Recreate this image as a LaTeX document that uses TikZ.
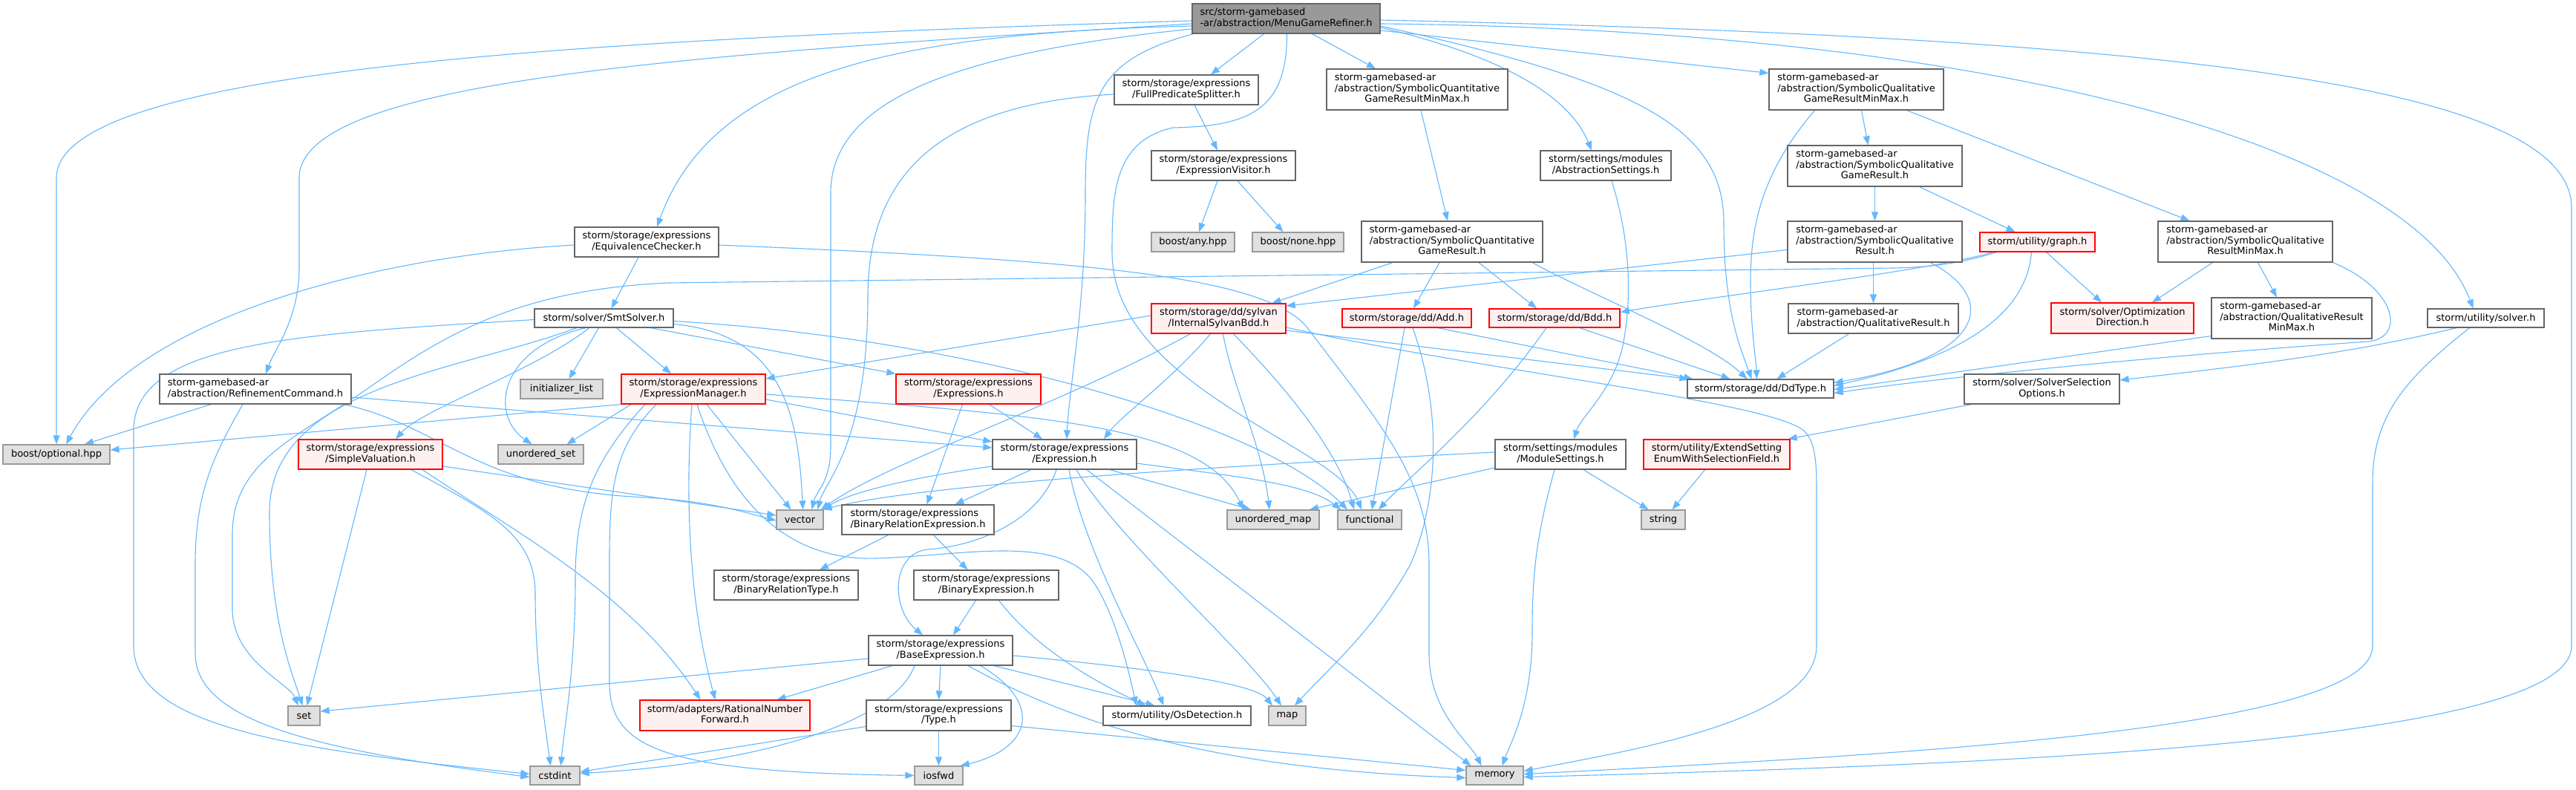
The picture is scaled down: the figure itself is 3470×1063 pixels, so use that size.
\documentclass[tikz,border=0pt]{standalone}
\usepackage{fontspec}
\setmainfont{DejaVu Sans}
\usetikzlibrary{arrows.meta,backgrounds}
\definecolor{edgecol}{HTML}{63B8FF}
\definecolor{rootfill}{HTML}{999999}
\definecolor{bord}{HTML}{666666}
\definecolor{gfill}{HTML}{E0E0E0}
\definecolor{gbord}{HTML}{999999}
\definecolor{rfill}{HTML}{FFF0F0}
\definecolor{rbord}{HTML}{FF0000}
\newcommand\nfont{\fontsize{13}{14.5}\selectfont}
\newcommand\TwoL[2]{\begin{tabular}{@{}l@{}}#1\\\multicolumn{1}{@{}c@{}}{#2}\end{tabular}}
\newcommand\ThreeL[3]{\begin{tabular}{@{}l@{}}#1\\#2\\\multicolumn{1}{@{}c@{}}{#3}\end{tabular}}
\newcommand\nd[7]{\node[#2, minimum width=#5pt, minimum height=#6pt] (#1) at (#3,#4) {#7};}
\tikzset{
  nbox/.style={draw, rectangle, inner sep=0pt, line width=1.3pt, font=\nfont, text=black},
  wbox/.style={nbox, draw=bord, fill=white},
  gbox/.style={nbox, draw=gbord, fill=gfill},
  rbox/.style={nbox, draw=rbord, fill=rfill},
  rootbox/.style={nbox, draw=bord, fill=rootfill},
  dep/.style={draw=edgecol, line width=1.1pt, -{Triangle[length=12pt,width=9pt]}},
}
\begin{document}
\begin{tikzpicture}[x=1pt,y=-1pt]
\useasboundingbox (0,0) rectangle (3470,1063);
% nodes
\nd{root}{rootbox}{1732.5}{25}{253}{40}{\TwoL{src/storm-gamebased}{-ar/abstraction/MenuGameRefiner.h}}
\nd{FPS}{wbox}{1598}{121}{194}{40}{\TwoL{storm/storage/expressions}{/FullPredicateSplitter.h}}
\nd{EV}{wbox}{1648}{223}{194}{40}{\TwoL{storm/storage/expressions}{/ExpressionVisitor.h}}
\nd{bany}{gbox}{1607}{326}{112}{26}{boost/any.hpp}
\nd{bnone}{gbox}{1748.5}{326}{123}{26}{boost/none.hpp}
\nd{SQGRMM}{wbox}{1909}{120.5}{244}{55}{\ThreeL{storm-gamebased-ar}{/abstraction/SymbolicQuantitative}{GameResultMinMax.h}}
\nd{AS}{wbox}{2163}{223}{176}{40}{\TwoL{storm/settings/modules}{/AbstractionSettings.h}}
\nd{SQGR}{wbox}{1956}{325.5}{244}{55}{\ThreeL{storm-gamebased-ar}{/abstraction/SymbolicQuantitative}{GameResult.h}}
\nd{SLGRMM}{wbox}{2500.5}{120.5}{235}{55}{\ThreeL{storm-gamebased-ar}{/abstraction/SymbolicQualitative}{GameResultMinMax.h}}
\nd{SLGR}{wbox}{2525.5}{223.5}{235}{55}{\ThreeL{storm-gamebased-ar}{/abstraction/SymbolicQualitative}{GameResult.h}}
\nd{SLR}{wbox}{2525.5}{325.5}{235}{55}{\ThreeL{storm-gamebased-ar}{/abstraction/SymbolicQualitative}{Result.h}}
\nd{graph}{rbox}{2744.5}{326}{155}{26}{storm/utility/graph.h}
\nd{SLRMM}{wbox}{3024.5}{325.5}{235}{55}{\ThreeL{storm-gamebased-ar}{/abstraction/SymbolicQualitative}{ResultMinMax.h}}
\nd{OD}{rbox}{2859}{428.5}{192}{41}{\TwoL{storm/solver/Optimization}{Direction.h}}
\nd{QRMM}{wbox}{3087}{428.5}{216}{55}{\ThreeL{storm-gamebased-ar}{/abstraction/QualitativeResult}{MinMax.h}}
\nd{usolver}{wbox}{3348.5}{428.5}{157}{25}{storm/utility/solver.h}
\nd{SSO}{wbox}{2750.5}{524}{209}{40}{\TwoL{storm/solver/SolverSelection}{Options.h}}
\nd{ISB}{rbox}{1641.5}{429}{181}{40}{\TwoL{storm/storage/dd/sylvan}{/InternalSylvanBdd.h}}
\nd{Add}{rbox}{1895}{428.5}{174}{25}{storm/storage/dd/Add.h}
\nd{Bdd}{rbox}{2094}{428.5}{176}{25}{storm/storage/dd/Bdd.h}
\nd{QR}{wbox}{2523.5}{429}{229}{40}{\TwoL{storm-gamebased-ar}{/abstraction/QualitativeResult.h}}
\nd{DdType}{wbox}{2371.5}{523.5}{197}{25}{storm/storage/dd/DdType.h}
\nd{MS}{wbox}{2102}{612}{176}{40}{\TwoL{storm/settings/modules}{/ModuleSettings.h}}
\nd{ESE}{rbox}{2312.5}{612}{197}{40}{\TwoL{storm/utility/ExtendSetting}{EnumWithSelectionField.h}}
\nd{functional}{gbox}{1845}{700}{86}{26}{functional}
\nd{sstring}{gbox}{2240.5}{700}{59}{26}{string}
\nd{umap}{gbox}{1715}{700}{124}{26}{unordered\_map}
\nd{EC}{wbox}{871}{326}{194}{40}{\TwoL{storm/storage/expressions}{/EquivalenceChecker.h}}
\nd{SMT}{wbox}{813.5}{428.5}{187}{25}{storm/solver/SmtSolver.h}
\nd{EM}{rbox}{934}{524}{194}{40}{\TwoL{storm/storage/expressions}{/ExpressionManager.h}}
\nd{Exprs}{rbox}{1304.5}{524}{195}{40}{\TwoL{storm/storage/expressions}{/Expressions.h}}
\nd{Expr}{wbox}{1434}{612}{194}{40}{\TwoL{storm/storage/expressions}{/Expression.h}}
\nd{vector}{gbox}{1077.5}{700}{63}{26}{vector}
\nd{BRE}{wbox}{1236.5}{700}{205}{40}{\TwoL{storm/storage/expressions}{/BinaryRelationExpression.h}}
\nd{RC}{wbox}{344}{524}{258}{40}{\TwoL{storm-gamebased-ar}{/abstraction/RefinementCommand.h}}
\nd{initlist}{gbox}{756.5}{524}{111}{26}{initializer\_list}
\nd{optional}{gbox}{76}{612}{144}{26}{boost/optional.hpp}
\nd{SV}{rbox}{499}{612}{194}{40}{\TwoL{storm/storage/expressions}{/SimpleValuation.h}}
\nd{uset}{gbox}{728.5}{612}{115}{26}{unordered\_set}
\nd{sset}{gbox}{409.5}{964}{43}{26}{set}
\nd{cstdint}{gbox}{747.5}{1044.5}{67}{25}{cstdint}
\nd{BRT}{wbox}{1059}{788}{194}{40}{\TwoL{storm/storage/expressions}{/BinaryRelationType.h}}
\nd{BE}{wbox}{1328.5}{788}{195}{40}{\TwoL{storm/storage/expressions}{/BinaryExpression.h}}
\nd{Base}{wbox}{1267}{876}{194}{40}{\TwoL{storm/storage/expressions}{/BaseExpression.h}}
\nd{RNF}{rbox}{976.5}{963.5}{229}{41}{\TwoL{storm/adapters/RationalNumber}{Forward.h}}
\nd{Type}{wbox}{1264.5}{963.5}{195}{41}{\TwoL{storm/storage/expressions}{/Type.h}}
\nd{OsD}{wbox}{1585.5}{964}{199}{26}{storm/utility/OsDetection.h}
\nd{map}{gbox}{1734}{964}{50}{26}{map}
\nd{iosfwd}{gbox}{1264.5}{1044.5}{65}{25}{iosfwd}
\nd{memory}{gbox}{2013.5}{1044.5}{77}{25}{memory}
% edges
\begin{pgfonlayer}{background}
\fill[white] (0,0) rectangle (3470,1063);
% root
\draw[dep] ([yshift=-3pt]root.west) .. controls (700,55) and (76,100) .. (76,240) -- (optional.north);
\draw[dep] ([yshift=-7pt]root.west) .. controls (900,75) and (403,110) .. (403,240) -- (403,360) .. controls (403,430) and (370,470) .. ([xshift=14pt]RC.north);
\draw[dep] ([yshift=-10pt]root.west) .. controls (1200,45) and (960,100) .. ([xshift=14pt]EC.north);
\draw[dep] ([yshift=-14pt]root.west) .. controls (1300,70) and (1119,130) .. (1119,260) -- (1119,600) .. controls (1119,650) and (1100,660) .. ([xshift=16pt]vector.north);
\draw[dep] ([xshift=2pt]root.south west) .. controls (1480,80) and (1462,130) .. (1462,260) .. controls (1462,420) and (1440,520) .. ([xshift=3pt]Expr.north);
\draw[dep] ([xshift=-30pt]root.south) -- ([xshift=33pt]FPS.north);
\draw[dep] ([xshift=1pt]root.south) .. controls (1734,150) and (1680,170) .. (1580,172) .. controls (1500,190) and (1498,260) .. (1498,340) .. controls (1498,520) and (1800,600) .. ([xshift=-11pt]functional.north);
\draw[dep] ([xshift=35pt]root.south) -- ([xshift=-56pt]SQGRMM.north);
\draw[dep] ([yshift=-12pt]root.east) .. controls (2000,70) and (2110,120) .. ([xshift=-19pt]AS.north);
\draw[dep] ([yshift=-10pt]root.east) .. controls (2200,110) and (2322,170) .. (2322,300) .. controls (2322,420) and (2345,470) .. ([xshift=-12pt]DdType.north);
\draw[dep] ([yshift=-16pt]root.east) -- ([yshift=22pt]SLGRMM.west);
\draw[dep] ([yshift=-7pt]root.east) .. controls (2700,40) and (3250,200) .. ([xshift=-17pt]usolver.north);
\draw[dep] ([yshift=-2pt]root.east) .. controls (2900,50) and (3464,110) .. (3464,280) -- (3464,870) .. controls (3464,1000) and (2700,1030) .. ([yshift=-2pt]memory.east);
% FPS, EV
\draw[dep] ([yshift=-6pt]FPS.west) .. controls (1260,140) and (1169,240) .. (1169,400) .. controls (1169,600) and (1110,650) .. ([xshift=24pt]vector.north);
\draw[dep] ([xshift=11pt]FPS.south) -- ([xshift=-8pt]EV.north);
\draw[dep] ([xshift=-8pt]EV.south) -- ([xshift=8pt]bany.north);
\draw[dep] ([xshift=19pt]EV.south) -- ([xshift=-20pt]bnone.north);
% EC
\draw[dep] ([xshift=-11pt]EC.south) -- ([xshift=10pt]SMT.north);
\draw[dep] ([yshift=-4pt]EC.west) .. controls (500,345) and (180,430) .. ([xshift=13pt]optional.north);
\draw[dep] ([yshift=-4pt]EC.east) .. controls (1450,350) and (1700,370) .. (1760,440) .. controls (1850,560) and (1925,640) .. (1925,760) -- (1925,880) .. controls (1925,960) and (1980,1000) .. ([xshift=-18pt]memory.north);
% SmtSolver
\draw[dep] ([yshift=-2pt]SMT.west) .. controls (400,450) and (180,460) .. (180,580) -- (180,870) .. controls (180,980) and (400,1010) .. ([yshift=2pt]cstdint.west);
\draw[dep] ([xshift=-7pt]SMT.south) -- ([xshift=10pt]initlist.north);
\draw[dep] ([xshift=-25pt]SMT.south) .. controls (670,470) and (660,560) .. ([xshift=-12pt]uset.north);
\draw[dep] ([xshift=17pt]SMT.south) -- ([xshift=-30pt]EM.north);
\draw[dep] ([xshift=63pt]SMT.south) -- (Exprs.north west);
\draw[dep] ([yshift=-8pt]SMT.east) .. controls (1050,450) and (1075,550) .. ([xshift=4pt]vector.north);
\draw[dep] ([yshift=-4pt]SMT.east) .. controls (1300,455) and (1700,570) .. ([xshift=-30pt]functional.north);
\draw[dep] ([xshift=-20pt]SMT.south) .. controls (720,500) and (570,550) .. ([xshift=34pt]SV.north);
\draw[dep] ([xshift=-37pt]SMT.south) .. controls (620,500) and (363,520) .. (363,690) .. controls (363,840) and (395,910) .. ([xshift=-2pt]sset.north);
% RC
\draw[dep] ([xshift=-60pt]RC.south) -- ([xshift=38pt]optional.north);
\draw[dep] ([xshift=-17pt]RC.south) .. controls (290,610) and (263,660) .. (263,760) -- (263,880) .. controls (263,970) and (420,1010) .. ([yshift=-2pt]cstdint.west);
\draw[dep] ([yshift=-11pt]RC.east) -- ([yshift=9pt]Expr.west);
\draw[dep] ([xshift=119pt]RC.south) .. controls (600,575) and (640,660) .. (870,670) .. controls (960,675) and (1010,692) .. ([yshift=-1pt]vector.west);
% SV
\draw[dep] ([xshift=-5pt]SV.south) -- ([xshift=4pt]sset.north);
\draw[dep] ([xshift=55pt]SV.south) .. controls (660,690) and (721,720) .. (721,800) .. controls (721,900) and (735,980) .. ([xshift=-6pt]cstdint.north);
\draw[dep] ([yshift=-16pt]SV.east) -- ([yshift=6pt]vector.west);
\draw[dep] ([xshift=70pt]SV.south) .. controls (700,720) and (850,800) .. ([xshift=-33pt]RNF.north);
% EM
\draw[dep] (EM.south west) -- ([yshift=6pt]optional.east);
\draw[dep] ([xshift=-84pt]EM.south) -- ([xshift=35pt]uset.north);
\draw[dep] ([yshift=-14pt]EM.east) -- ([yshift=17pt]Expr.west);
\draw[dep] ([yshift=-7pt]EM.east) .. controls (1400,560) and (1620,570) .. ([xshift=-40pt]umap.north);
\draw[dep] ([xshift=18pt]EM.south) -- ([xshift=-12pt]vector.north);
\draw[dep] ([xshift=-2pt]EM.south) .. controls (922,680) and (930,820) .. ([xshift=-13pt]RNF.north);
\draw[dep] ([xshift=5pt]EM.south) .. controls (990,700) and (1080,755) .. (1180,752) .. controls (1300,748) and (1420,720) .. (1470,780) .. controls (1500,820) and (1520,900) .. ([xshift=-55pt]OsD.north);
\draw[dep] ([xshift=-50pt]EM.south) .. controls (830,600) and (821,650) .. (821,750) -- (821,920) .. controls (821,1010) and (900,1040) .. (iosfwd.west);
\draw[dep] ([xshift=-65pt]EM.south) .. controls (800,620) and (775,680) .. (775,780) .. controls (775,900) and (760,980) .. ([xshift=8pt]cstdint.north);
% Exprs
\draw[dep] ([xshift=28pt]Exprs.south) -- ([xshift=-30pt]Expr.north);
\draw[dep] ([xshift=-8pt]Exprs.south) -- ([xshift=12pt]BRE.north);
% ISB
\draw[dep] ([yshift=4pt]ISB.west) -- ([yshift=14pt]EM.east);
\draw[dep] ([xshift=-38pt]ISB.south) .. controls (1420,550) and (1200,620) .. ([xshift=-4pt]vector.north east);
\draw[dep] ([xshift=-11pt]ISB.south) .. controls (1580,510) and (1510,560) .. ([xshift=53pt]Expr.north);
\draw[dep] ([xshift=6pt]ISB.south) .. controls (1660,520) and (1700,600) .. ([xshift=-5pt]umap.north);
\draw[dep] ([xshift=20pt]ISB.south) .. controls (1720,510) and (1800,600) .. ([xshift=-21pt]functional.north);
\draw[dep] ([yshift=-16pt]ISB.east) -- ([xshift=2pt]DdType.north west);
\draw[dep] ([yshift=-12pt]ISB.east) .. controls (2000,500) and (2380,540) .. (2430,580) .. controls (2445,595) and (2447,620) .. (2447,660) -- (2447,870) .. controls (2447,970) and (2200,1010) .. ([yshift=6pt]memory.east);
% Expression
\draw[dep] ([yshift=-16pt]Expr.west) .. controls (1250,640) and (1150,660) .. ([xshift=-1pt]vector.north east);
\draw[dep] ([xshift=-45pt]Expr.south) -- ([xshift=50pt]BRE.north);
\draw[dep] ([xshift=61pt]Expr.south) -- ([xshift=-30pt]umap.north);
\draw[dep] ([yshift=-12pt]Expr.east) .. controls (1650,640) and (1760,650) .. ([xshift=5pt]functional.north west);
\draw[dep] ([xshift=-11pt]Expr.south) .. controls (1400,700) and (1320,735) .. (1250,740) .. controls (1200,745) and (1200,820) .. ([xshift=-24pt]Base.north);
\draw[dep] ([xshift=6pt]Expr.south) .. controls (1460,740) and (1540,880) .. ([xshift=-18pt]OsD.north);
\draw[dep] ([xshift=16pt]Expr.south) .. controls (1500,720) and (1680,880) .. ([xshift=-8pt]map.north);
\draw[dep] ([xshift=30pt]Expr.south) -- ([xshift=-32pt]memory.north);
% BRE, BE, Base, Type
\draw[dep] ([xshift=-40pt]BRE.south) -- ([xshift=45pt]BRT.north);
\draw[dep] ([xshift=21pt]BRE.south) -- ([xshift=-25pt]BE.north);
\draw[dep] ([xshift=-14pt]BE.south) -- ([xshift=17pt]Base.north);
\draw[dep] ([xshift=17pt]BE.south) .. controls (1400,880) and (1490,925) .. ([xshift=-42pt]OsD.north);
\draw[dep] ([yshift=-11pt]Base.west) -- ([yshift=6pt]sset.east);
\draw[dep] ([xshift=-65pt]Base.south) -- ([xshift=70pt]RNF.north);
\draw[dep] ([xshift=-35pt]Base.south) .. controls (1200,980) and (1000,1030) .. ([yshift=3pt]cstdint.east);
\draw[dep] (Base.south) -- (Type.north);
\draw[dep] ([xshift=54pt]Base.south) .. controls (1410,950) and (1385,1010) .. ([xshift=-4pt]iosfwd.north east);
\draw[dep] ([xshift=72pt]Base.south) -- ([xshift=-30pt]OsD.north);
\draw[dep] ([yshift=-7pt]Base.east) .. controls (1550,900) and (1690,920) .. ([xshift=-20pt]map.north);
\draw[dep] ([xshift=37pt]Base.south) .. controls (1420,960) and (1600,1035) .. ([yshift=-3pt]memory.west);
\draw[dep] ([yshift=-15pt]Type.west) -- ([yshift=5pt]cstdint.east);
\draw[dep] (Type.south) -- (iosfwd.north);
\draw[dep] ([yshift=-14pt]Type.east) -- ([yshift=7pt]memory.west);
% quantitative / qualitative
\draw[dep] ([xshift=5pt]SQGRMM.south) -- ([xshift=-6pt]SQGR.north);
\draw[dep] ([xshift=-80pt]SQGR.south) -- ([xshift=72pt]ISB.north);
\draw[dep] ([xshift=-17pt]SQGR.south) -- ([xshift=9pt]Add.north);
\draw[dep] ([xshift=36pt]SQGR.south) -- ([xshift=-24pt]Bdd.north);
\draw[dep] ([xshift=108pt]SQGR.south) .. controls (2150,400) and (2300,460) .. ([xshift=-18pt]DdType.north);
\draw[dep] ([xshift=8pt]AS.south) .. controls (2195,320) and (2200,400) .. (2185,470) .. controls (2170,530) and (2130,560) .. ([xshift=18pt]MS.north);
\draw[dep] ([xshift=7pt]SLGRMM.south) -- ([xshift=-9pt]SLGR.north);
\draw[dep] ([xshift=68pt]SLGRMM.south) -- ([xshift=-75pt]SLRMM.north);
\draw[dep] ([xshift=-56pt]SLGRMM.south) .. controls (2375,230) and (2358,300) .. (2358,380) .. controls (2358,440) and (2365,480) .. ([xshift=-5pt]DdType.north);
\draw[dep] (SLGR.south) -- (SLR.north);
\draw[dep] ([xshift=60pt]SLGR.south) -- ([xshift=-30pt]graph.north);
\draw[dep] ([xshift=-2pt]SLR.south) -- (QR.north);
\draw[dep] ([yshift=-11pt]SLR.west) -- ([yshift=17pt]ISB.east);
\draw[dep] ([xshift=75pt]SLR.south) .. controls (2690,400) and (2680,480) .. ([yshift=8pt]DdType.east);
\draw[dep] ([xshift=-33pt]QR.south) -- ([xshift=22pt]DdType.north);
% graph.h
\draw[dep] ([xshift=-55pt]graph.south) .. controls (2640,355) and (2600,360) .. (2550,361) -- (900,381) .. controls (700,390) and (600,450) .. (500,520) .. controls (400,590) and (313,620) .. (313,720) -- (313,820) .. controls (313,890) and (390,920) .. ([xshift=-8pt]sset.north);
\draw[dep] ([xshift=-60pt]graph.south) .. controls (2600,365) and (2300,400) .. ([yshift=8pt]Bdd.east);
\draw[dep] ([xshift=12pt]graph.south) -- ([xshift=-28pt]OD.north);
\draw[dep] ([xshift=-8pt]graph.south) .. controls (2730,420) and (2650,480) .. ([yshift=4pt]DdType.east);
% right side
\draw[dep] ([xshift=-44pt]SLRMM.south) -- ([xshift=40pt]OD.north);
\draw[dep] ([xshift=17pt]SLRMM.south) -- ([xshift=-20pt]QRMM.north);
\draw[dep] (SLRMM.south east) .. controls (3230,390) and (3240,455) .. (3190,460) .. controls (2900,480) and (2600,510) .. ([yshift=-6pt]DdType.east);
\draw[dep] ([yshift=-24pt]QRMM.west) -- ([yshift=-1pt]DdType.east);
\draw[dep] ([xshift=-40pt]usolver.south) .. controls (3150,480) and (3000,495) .. ([yshift=12pt]SSO.east);
\draw[dep] ([xshift=-22pt]usolver.south) .. controls (3240,510) and (3196,560) .. (3196,650) -- (3196,870) .. controls (3196,980) and (2600,1015) .. ([yshift=2pt]memory.east);
\draw[dep] ([xshift=-95pt]SSO.south) -- ([xshift=-3pt]ESE.north east);
\draw[dep] ([xshift=-16pt]ESE.south) -- ([xshift=12pt]sstring.north);
% ModuleSettings
\draw[dep] ([xshift=31pt]MS.south) -- ([xshift=-20pt]sstring.north);
\draw[dep] ([xshift=-8pt]MS.south) .. controls (2070,720) and (2064,770) .. (2064,850) .. controls (2064,950) and (2035,1000) .. ([xshift=10pt]memory.north);
\draw[dep] ([yshift=-18pt]MS.west) -- ([xshift=49pt]umap.north);
\draw[dep] ([yshift=3pt]MS.west) .. controls (1700,625) and (1250,650) .. ([xshift=-1pt]vector.north east);
% dd
\draw[dep] ([xshift=-3pt]Add.south) -- ([xshift=3pt]functional.north);
\draw[dep] ([xshift=42pt]Add.south) -- ([xshift=8pt]DdType.north west);
\draw[dep] ([xshift=8pt]Add.south) .. controls (1945,560) and (1935,680) .. (1900,760) .. controls (1850,850) and (1790,900) .. ([xshift=10pt]map.north);
\draw[dep] ([xshift=34pt]Bdd.south) -- ([xshift=-41pt]DdType.north);
\draw[dep] ([xshift=-11pt]Bdd.south) .. controls (2000,560) and (1900,640) .. ([xshift=12pt]functional.north);
\end{pgfonlayer}
\end{tikzpicture}
\end{document}
